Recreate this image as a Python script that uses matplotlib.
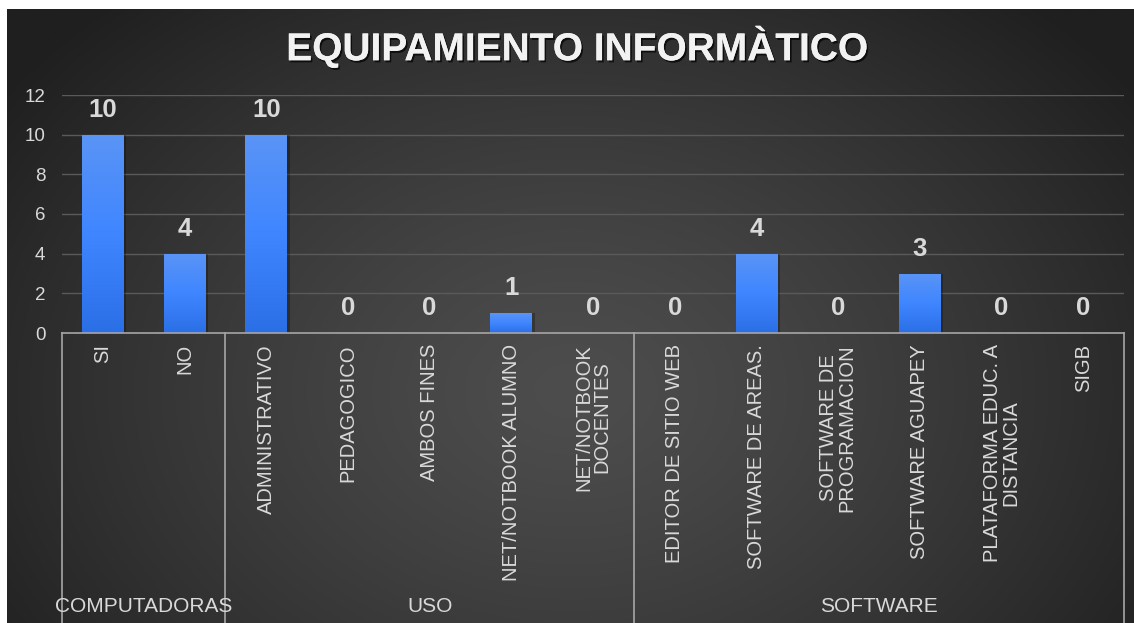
import numpy as np
import matplotlib
matplotlib.use("Agg")
import matplotlib.pyplot as plt
import matplotlib.patheffects as pe
from matplotlib.colors import LinearSegmentedColormap
from matplotlib.transforms import blended_transform_factory

plt.rcParams['font.family'] = ['Liberation Sans', 'DejaVu Sans']

# ---------------- data ----------------
title = "EQUIPAMIENTO INFORMÀTICO"
categories = ["SI", "NO",
              "ADMINISTRATIVO", "PEDAGOGICO", "AMBOS FINES", "NET/NOTBOOK ALUMNO", "NET/NOTBOOK\nDOCENTES",
              "EDITOR DE SITIO WEB", "SOFTWARE DE AREAS.", "SOFTWARE DE\nPROGRAMACION", "SOFTWARE AGUAPEY",
              "PLATAFORMA EDUC. A\nDISTANCIA", "SIGB"]
values = [10, 4, 10, 0, 0, 1, 0, 0, 4, 0, 3, 0, 0]
groups = ["COMPUTADORAS", "USO", "SOFTWARE"]
group_sizes = [2, 5, 6]
yticks = [0, 2, 4, 6, 8, 10, 12]

W, H = 1134, 623
fig = plt.figure(figsize=(W / 100, H / 100), dpi=100)
fig.patch.set_facecolor("white")

# ---------------- background (radial gradient) ----------------
bx0, by0 = 7, 9  # white border left / top (px)
bg = fig.add_axes([bx0 / W, 0, (W - bx0) / W, (H - by0) / H])
bg.set_axis_off()
ny, nx = 300, 560
yy, xx = np.mgrid[0:ny, 0:nx]
cx, cy = nx * 0.50, ny * 0.62
r = np.sqrt(((xx - cx) / (nx * 0.62)) ** 2 + ((yy - cy) / (ny * 0.85)) ** 2)
r = np.clip(r, 0, 1)
c_in = np.array([0x4d, 0x4d, 0x4d]) / 255
c_out = np.array([0x1f, 0x1f, 0x1f]) / 255
t = r[..., None] ** 1.3
img = c_in * (1 - t) + c_out * t
bg.imshow(img, aspect="auto", extent=[0, 1, 0, 1], origin="upper", interpolation="bilinear")
bg.set_xlim(0, 1)
bg.set_ylim(0, 1)

# ---------------- main axes ----------------
px_left, px_right, px_top, px_zero = 62, 1124, 95, 333
ax = fig.add_axes([px_left / W, (H - px_zero) / H, (px_right - px_left) / W, (px_zero - px_top) / H])
ax.patch.set_alpha(0)
n = len(categories)
x = np.arange(n)
ax.set_xlim(-0.5, n - 0.5)
ax.set_ylim(0, 12)

txtc = "#d9d9d9"
for s in ["top", "right", "left"]:
    ax.spines[s].set_visible(False)
ax.spines["bottom"].set_color("#a6a6a6")
ax.spines["bottom"].set_linewidth(1.2)
ax.set_yticks(yticks)
ax.set_yticklabels([str(v) for v in yticks], fontsize=13.5, color=txtc)
ax.tick_params(axis="y", length=0, pad=12)
ax.set_xticks([])
ax.grid(axis="y", color="#5a5a5a", linewidth=1.0)
ax.set_axisbelow(True)
gl = ax.get_ygridlines()
gl[0].set_visible(False)

# bars with vertical gradient
cmap = LinearSegmentedColormap.from_list("barg", ["#2b6fe6", "#3f86ff", "#5a94f6"])
grad = np.linspace(0, 1, 256).reshape(-1, 1)
bars = ax.bar(x, values, width=0.51, color="#3f86ff", zorder=2)
for b in bars:
    h = b.get_height()
    if h <= 0:
        continue
    bx, bw = b.get_x(), b.get_width()
    ax.bar(bx + bw / 2 + 0.03, h, width=bw, bottom=0, color="#000000", alpha=0.25, zorder=1.5, align="center")
    im = ax.imshow(grad, cmap=cmap, aspect="auto", origin="lower",
                   extent=[bx, bx + bw, 0, h], zorder=2.5)
    im.set_clip_path(b)
ax.set_xlim(-0.5, n - 0.5)
ax.set_ylim(0, 12)

# data labels
for xi, v in zip(x, values):
    ax.annotate(str(v), (xi, v), xytext=(0, 18), textcoords="offset points",
                ha="center", va="center", fontsize=18.5, fontweight="bold", color=txtc)

# ---------------- multi-level category axis ----------------
trans = blended_transform_factory(ax.transData, ax.transAxes)
ax_h = px_zero - px_top
def yfrac(py):
    return (px_zero - py) / ax_h

y_bottom = yfrac(H + 2)
bounds = np.concatenate([[0], np.cumsum(group_sizes)]) - 0.5
for bpos in bounds:
    ax.plot([bpos, bpos], [0, y_bottom], transform=trans, color="#a6a6a6", lw=1.2, clip_on=False)

for xi, lab in zip(x, categories):
    ax.text(xi, yfrac(344), lab, transform=trans, rotation=90, ha="center", va="top",
            fontsize=14.5, color=txtc, multialignment="center", linespacing=0.95)

for gi, gname in enumerate(groups):
    cxg = (bounds[gi] + bounds[gi + 1]) / 2
    ax.text(cxg, yfrac(606), gname, transform=trans, ha="center", va="center",
            fontsize=15, color=txtc)

# ---------------- title ----------------
fig.text(577 / W, (H - 47) / H, title, ha="center", va="center", fontsize=28, fontweight="bold",
         color="#f2f2f2",
         path_effects=[pe.withSimplePatchShadow(offset=(1.2, -1.5), shadow_rgbFace="black", alpha=0.7),
                       pe.Normal()])

fig.savefig("out.png", dpi=100, facecolor=fig.get_facecolor())
